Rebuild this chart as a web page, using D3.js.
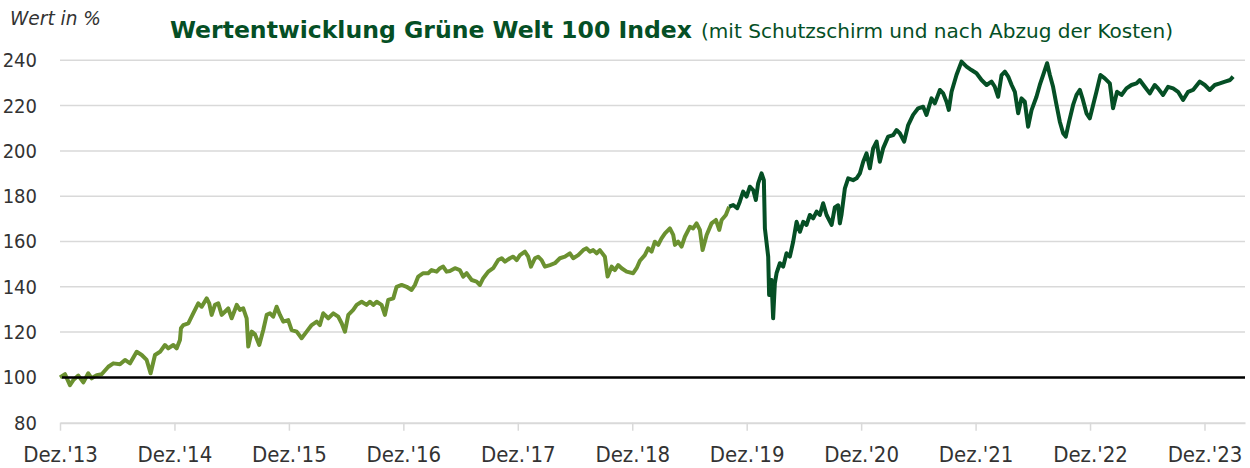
<!DOCTYPE html>
<html lang="de">
<head>
<meta charset="utf-8">
<script src="https://cdn.jsdelivr.net/npm/d3@7"></script>
<style>
  body { margin: 0; background: #fff; }
  svg text { font-family: Tahoma, "DejaVu Sans Condensed", "DejaVu Sans", sans-serif; fill: #333; }
</style>
</head>
<body>
<svg id="chart" width="1250" height="468"></svg>
<script>
// Jahre seit Dez. 2013
const zeit = [
  0.000, 0.044, 0.087, 0.116, 0.160, 0.204, 0.247, 0.277, 0.321, 0.364, 0.422, 0.466, 0.524, 0.568, 0.612, 0.670,
  0.714, 0.757, 0.792, 0.830, 0.874, 0.917, 0.946, 0.990, 1.019, 1.048, 1.057, 1.077, 1.121, 1.164, 1.208, 1.238,
  1.282, 1.304, 1.325, 1.354, 1.383, 1.413, 1.441, 1.470, 1.500, 1.544, 1.572, 1.601, 1.631, 1.645, 1.675, 1.704,
  1.741, 1.776, 1.806, 1.835, 1.863, 1.893, 1.922, 1.951, 1.994, 2.024, 2.068, 2.111, 2.155, 2.199, 2.243, 2.271,
  2.300, 2.344, 2.388, 2.431, 2.461, 2.490, 2.519, 2.562, 2.592, 2.636, 2.679, 2.708, 2.737, 2.767, 2.810, 2.839,
  2.868, 2.912, 2.941, 2.985, 3.029, 3.072, 3.101, 3.130, 3.174, 3.217, 3.247, 3.291, 3.320, 3.348, 3.378, 3.407,
  3.451, 3.494, 3.523, 3.553, 3.597, 3.640, 3.669, 3.698, 3.742, 3.785, 3.829, 3.859, 3.888, 3.931, 3.960, 3.990,
  4.019, 4.062, 4.091, 4.115, 4.150, 4.178, 4.208, 4.237, 4.281, 4.324, 4.368, 4.412, 4.455, 4.484, 4.528, 4.572,
  4.601, 4.630, 4.659, 4.689, 4.717, 4.761, 4.785, 4.820, 4.848, 4.877, 4.907, 4.951, 5.008, 5.038, 5.067, 5.110,
  5.139, 5.169, 5.198, 5.227, 5.256, 5.286, 5.329, 5.358, 5.373, 5.401, 5.431, 5.460, 5.504, 5.532, 5.562, 5.591,
  5.615, 5.650, 5.693, 5.731, 5.760, 5.781, 5.818, 5.847, 5.882, 5.917, 5.940, 5.969, 5.999, 6.028, 6.057, 6.080,
  6.100, 6.130, 6.150, 6.159, 6.188, 6.196, 6.217, 6.231, 6.246, 6.261, 6.290, 6.319, 6.348, 6.377, 6.406, 6.436,
  6.465, 6.494, 6.523, 6.552, 6.581, 6.611, 6.639, 6.668, 6.698, 6.742, 6.770, 6.799, 6.814, 6.829, 6.858, 6.887,
  6.930, 6.960, 6.989, 7.018, 7.047, 7.076, 7.105, 7.135, 7.163, 7.192, 7.236, 7.280, 7.309, 7.338, 7.376, 7.411,
  7.454, 7.498, 7.542, 7.571, 7.615, 7.644, 7.688, 7.717, 7.746, 7.766, 7.790, 7.833, 7.877, 7.921, 7.964, 8.008,
  8.052, 8.096, 8.139, 8.168, 8.197, 8.227, 8.256, 8.285, 8.315, 8.343, 8.372, 8.401, 8.430, 8.459, 8.489, 8.532,
  8.561, 8.590, 8.625, 8.649, 8.677, 8.707, 8.736, 8.765, 8.788, 8.817, 8.852, 8.882, 8.911, 8.934, 8.969, 8.998,
  9.027, 9.056, 9.091, 9.129, 9.173, 9.201, 9.236, 9.275, 9.318, 9.362, 9.406, 9.434, 9.478, 9.522, 9.565, 9.594,
  9.638, 9.682, 9.726, 9.769, 9.813, 9.857, 9.900, 9.959, 10.003, 10.046, 10.090, 10.134, 10.180, 10.224, 10.250
];

const wert = [
  100.0, 101.4, 96.6, 98.8, 100.8, 97.8, 101.8, 99.6, 101.0, 101.4, 104.7, 106.2, 105.8, 107.7, 106.2, 111.3,
  109.9, 107.7, 101.8, 109.9, 111.3, 114.3, 112.8, 114.3, 112.8, 116.5, 121.7, 123.1, 123.9, 128.3, 132.7, 131.2,
  134.9, 132.7, 127.6, 132.0, 132.7, 127.6, 129.0, 130.5, 126.1, 132.0, 129.8, 130.5, 126.1, 113.6, 120.2, 119.0,
  114.3, 120.9, 127.6, 128.3, 126.8, 131.2, 127.6, 124.6, 125.3, 120.9, 120.2, 117.3, 120.2, 123.1, 124.6, 123.1,
  128.3, 126.1, 128.3, 126.8, 123.9, 120.2, 127.6, 129.8, 132.0, 133.4, 132.0, 133.4, 132.0, 133.4, 132.0, 127.6,
  134.2, 134.9, 140.0, 140.8, 140.0, 138.6, 140.8, 144.5, 146.0, 146.0, 147.4, 146.7, 148.2, 148.9, 146.7, 147.0,
  148.2, 147.4, 144.5, 146.0, 143.0, 142.3, 140.8, 143.8, 146.7, 148.2, 151.8, 152.6, 151.1, 152.6, 153.3, 151.8,
  154.0, 155.5, 153.3, 148.9, 152.6, 153.3, 151.8, 148.9, 149.6, 150.4, 152.6, 153.3, 154.8, 152.6, 154.0, 156.2,
  157.0, 155.5, 156.2, 154.8, 156.2, 153.3, 144.5, 148.9, 147.4, 149.6, 148.2, 146.7, 146.0, 148.2, 151.5, 154.0,
  157.0, 155.5, 159.9, 158.5, 161.4, 163.6, 165.8, 162.9, 158.5, 159.9, 157.7, 162.1, 166.5, 165.8, 168.0, 165.1,
  156.2, 162.9, 168.0, 169.5, 165.1, 169.5, 171.7, 175.4, 176.1, 174.7, 177.6, 182.0, 179.8, 184.2, 182.7, 178.3,
  185.7, 190.1, 187.1, 165.8, 153.3, 136.4, 143.0, 126.1, 141.5, 146.0, 150.4, 148.9, 154.8, 153.3, 159.9, 168.7,
  164.3, 168.7, 167.3, 171.7, 170.2, 173.2, 171.7, 176.9, 171.7, 167.3, 175.0, 176.0, 168.0, 172.0, 183.5, 187.9,
  187.1, 187.9, 190.1, 195.2, 198.9, 192.3, 201.1, 204.1, 195.2, 201.1, 206.3, 207.0, 209.2, 207.8, 204.1, 211.4,
  215.9, 218.8, 219.5, 215.9, 223.2, 221.0, 226.9, 225.4, 221.7, 218.1, 226.1, 233.5, 239.4, 237.2, 235.7, 234.3,
  231.3, 229.1, 230.6, 228.3, 223.9, 233.5, 235.0, 232.8, 229.1, 226.1, 216.6, 223.2, 221.7, 210.7, 218.0, 223.9,
  229.1, 233.5, 238.7, 233.5, 228.3, 220.3, 212.9, 207.8, 206.3, 212.9, 220.3, 224.7, 226.9, 223.2, 216.6, 214.4,
  220.3, 226.1, 233.5, 232.0, 229.8, 218.8, 226.1, 224.7, 227.6, 229.1, 229.8, 231.3, 228.3, 225.4, 229.1, 227.6,
  224.7, 228.3, 227.6, 226.1, 222.5, 226.1, 226.9, 230.6, 229.1, 226.9, 229.1, 229.8, 230.6, 231.3, 232.8
];

const wechsel = 5.847; // ab hier dunkelgrün
const yTicks = [80, 100, 120, 140, 160, 180, 200, 220, 240];
const xTicks = [0, 1, 2, 3, 4, 5, 6, 7, 8, 9, 10];
const xLabels = ["Dez.'13", "Dez.'14", "Dez.'15", "Dez.'16", "Dez.'17", "Dez.'18", "Dez.'19", "Dez.'20", "Dez.'21", "Dez.'22", "Dez.'23"];

const hell = "#6b9130";
const dunkel = "#054f25";

const svg = d3.select("#chart");
const x = d3.scaleLinear().domain([0, 10.354]).range([60, 1245]);
const y = d3.scaleLinear().domain([80, 240]).range([422.7, 60.3]);

const data = zeit.map((t, i) => ({ t: t, v: wert[i] }));

// Gitternetz
svg.append("g")
    .selectAll("line")
    .data(yTicks.filter(v => v > 80))
    .join("line")
    .attr("x1", x(0)).attr("x2", x.range()[1])
    .attr("y1", d => y(d)).attr("y2", d => y(d))
    .style("stroke", "#d9d9d9")
    .style("stroke-width", 1.5);

// x-Achse
const xAxis = svg.append("g")
    .attr("transform", `translate(0,${y(80)})`)
    .call(d3.axisBottom(x).tickValues(xTicks).tickSize(8).tickSizeOuter(0).tickFormat((d, i) => xLabels[i]));
xAxis.select(".domain").style("stroke", "#d9d9d9").style("stroke-width", 2);
xAxis.selectAll(".tick line").style("stroke", "#d9d9d9").style("stroke-width", 1.5);
xAxis.selectAll(".tick text")
    .attr("y", 0).attr("dy", 0)
    .attr("transform", "translate(0,39)")
    .style("font-size", "22px")
    .style("fill", "#333");

// y-Achse
const yAxis = svg.append("g")
    .attr("transform", "translate(37,0)")
    .call(d3.axisLeft(y).tickValues(yTicks).tickSize(0).tickPadding(0));
yAxis.select(".domain").remove();
yAxis.selectAll(".tick text")
    .style("font-size", "20px")
    .style("fill", "#333");

// Linie
const line = d3.line().x(d => x(d.t)).y(d => y(d.v));

svg.append("path")
    .datum(data.filter(d => d.t <= wechsel))
    .attr("d", line)
    .style("fill", "none")
    .style("stroke", hell)
    .style("stroke-width", 4)
    .style("stroke-linejoin", "round");

svg.append("path")
    .datum(data.filter(d => d.t >= wechsel))
    .attr("d", line)
    .style("fill", "none")
    .style("stroke", dunkel)
    .style("stroke-width", 4)
    .style("stroke-linejoin", "round");

// 100-Linie
svg.append("line")
    .attr("x1", x(0) + 2).attr("x2", x.range()[1])
    .attr("y1", y(100)).attr("y2", y(100))
    .style("stroke", "#000")
    .style("stroke-width", 2.5);

// Beschriftung
svg.append("text")
    .attr("x", 10).attr("y", 25)
    .attr("textLength", 91).attr("lengthAdjust", "spacingAndGlyphs")
    .style("font-size", "19px")
    .style("font-style", "italic")
    .style("fill", "#333")
    .text("Wert in %");

svg.append("text")
    .attr("x", 170).attr("y", 38)
    .attr("textLength", 522).attr("lengthAdjust", "spacingAndGlyphs")
    .style("font-size", "23px")
    .style("font-weight", "bold")
    .style("fill", dunkel)
    .text("Wertentwicklung Grüne Welt 100 Index");

svg.append("text")
    .attr("x", 701).attr("y", 38)
    .attr("textLength", 472).attr("lengthAdjust", "spacingAndGlyphs")
    .style("font-size", "19px")
    .style("fill", dunkel)
    .text("(mit Schutzschirm und nach Abzug der Kosten)");
</script>
</body>
</html>
